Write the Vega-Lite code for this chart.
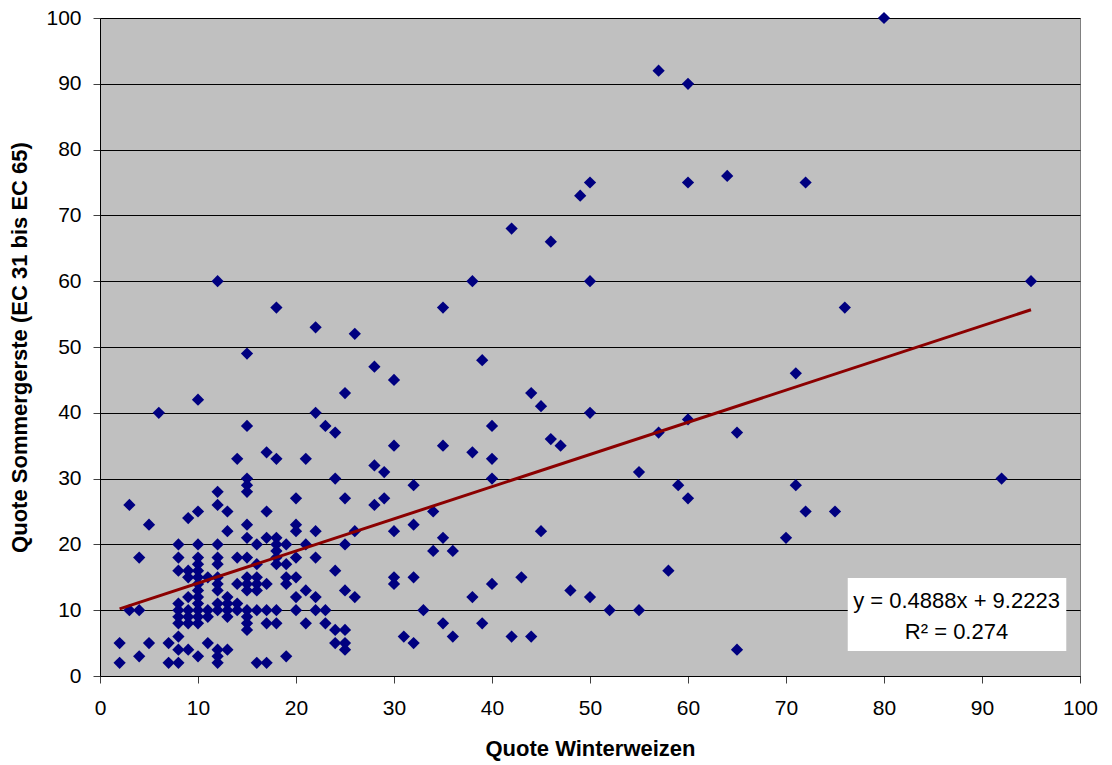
{
  "$schema": "https://vega.github.io/schema/vega-lite/v6.json",
  "width": 980,
  "height": 658,
  "autosize": {"type": "none"},
  "padding": {"left": 100, "top": 18, "right": 32, "bottom": 89},
  "background": "white",
  "config": {
    "view": {"fill": "#C0C0C0", "stroke": "#808080", "strokeWidth": 1},
    "font": "Liberation Sans",
    "axis": {
      "labelFont": "Liberation Sans",
      "labelFontSize": 21,
      "labelColor": "black",
      "titleFont": "Liberation Sans",
      "titleFontSize": 22,
      "titleFontWeight": "bold",
      "titleColor": "black",
      "domainColor": "#000000",
      "tickColor": "#404040",
      "tickSize": 7
    }
  },
  "datasets": {
    "points": [
      {"x":2,"y":5},{"x":2,"y":2},
      {"x":3,"y":26},{"x":3,"y":10},
      {"x":4,"y":18},{"x":4,"y":10},{"x":4,"y":3},
      {"x":5,"y":23},{"x":5,"y":5},
      {"x":6,"y":40},
      {"x":7,"y":5},{"x":7,"y":2},
      {"x":8,"y":20},{"x":8,"y":18},{"x":8,"y":16},{"x":8,"y":11},{"x":8,"y":10},{"x":8,"y":9},{"x":8,"y":8},{"x":8,"y":6},{"x":8,"y":4},{"x":8,"y":2},
      {"x":9,"y":24},{"x":9,"y":16},{"x":9,"y":15},{"x":9,"y":12},{"x":9,"y":10},{"x":9,"y":9},{"x":9,"y":8},{"x":9,"y":4},
      {"x":10,"y":42},{"x":10,"y":25},{"x":10,"y":20},{"x":10,"y":18},{"x":10,"y":17},{"x":10,"y":16},{"x":10,"y":15},{"x":10,"y":14},{"x":10,"y":13},{"x":10,"y":12},{"x":10,"y":11},{"x":10,"y":10},{"x":10,"y":9},{"x":10,"y":8},{"x":10,"y":3},
      {"x":11,"y":15},{"x":11,"y":10},{"x":11,"y":9},{"x":11,"y":5},
      {"x":12,"y":60},{"x":12,"y":28},{"x":12,"y":26},{"x":12,"y":20},{"x":12,"y":18},{"x":12,"y":17},{"x":12,"y":15},{"x":12,"y":14},{"x":12,"y":13},{"x":12,"y":11},{"x":12,"y":10},{"x":12,"y":4},{"x":12,"y":3},{"x":12,"y":2},
      {"x":13,"y":25},{"x":13,"y":22},{"x":13,"y":12},{"x":13,"y":11},{"x":13,"y":10},{"x":13,"y":9},{"x":13,"y":4},
      {"x":14,"y":33},{"x":14,"y":18},{"x":14,"y":14},{"x":14,"y":11},{"x":14,"y":10},
      {"x":15,"y":49},{"x":15,"y":38},{"x":15,"y":30},{"x":15,"y":29},{"x":15,"y":28},{"x":15,"y":23},{"x":15,"y":21},{"x":15,"y":18},{"x":15,"y":15},{"x":15,"y":14},{"x":15,"y":13},{"x":15,"y":10},{"x":15,"y":9},{"x":15,"y":8},{"x":15,"y":7},
      {"x":16,"y":20},{"x":16,"y":17},{"x":16,"y":15},{"x":16,"y":14},{"x":16,"y":13},{"x":16,"y":10},{"x":16,"y":2},
      {"x":17,"y":34},{"x":17,"y":25},{"x":17,"y":21},{"x":17,"y":14},{"x":17,"y":10},{"x":17,"y":8},{"x":17,"y":2},
      {"x":18,"y":56},{"x":18,"y":33},{"x":18,"y":21},{"x":18,"y":20},{"x":18,"y":19},{"x":18,"y":18},{"x":18,"y":17},{"x":18,"y":10},{"x":18,"y":8},
      {"x":19,"y":20},{"x":19,"y":17},{"x":19,"y":15},{"x":19,"y":14},{"x":19,"y":3},
      {"x":20,"y":27},{"x":20,"y":23},{"x":20,"y":22},{"x":20,"y":18},{"x":20,"y":15},{"x":20,"y":12},{"x":20,"y":10},
      {"x":21,"y":33},{"x":21,"y":20},{"x":21,"y":13},{"x":21,"y":8},
      {"x":22,"y":53},{"x":22,"y":40},{"x":22,"y":22},{"x":22,"y":18},{"x":22,"y":12},{"x":22,"y":10},
      {"x":23,"y":38},{"x":23,"y":10},{"x":23,"y":8},
      {"x":24,"y":37},{"x":24,"y":30},{"x":24,"y":16},{"x":24,"y":7},{"x":24,"y":5},
      {"x":25,"y":43},{"x":25,"y":27},{"x":25,"y":20},{"x":25,"y":13},{"x":25,"y":7},{"x":25,"y":5},{"x":25,"y":4},
      {"x":26,"y":52},{"x":26,"y":22},{"x":26,"y":12},
      {"x":28,"y":47},{"x":28,"y":32},{"x":28,"y":26},
      {"x":29,"y":31},{"x":29,"y":27},
      {"x":30,"y":45},{"x":30,"y":35},{"x":30,"y":22},{"x":30,"y":15},{"x":30,"y":14},
      {"x":31,"y":6},
      {"x":32,"y":29},{"x":32,"y":23},{"x":32,"y":15},{"x":32,"y":5},
      {"x":33,"y":10},
      {"x":34,"y":25},{"x":34,"y":19},
      {"x":35,"y":56},{"x":35,"y":35},{"x":35,"y":21},{"x":35,"y":8},
      {"x":36,"y":19},{"x":36,"y":6},
      {"x":38,"y":60},{"x":38,"y":34},{"x":38,"y":12},
      {"x":39,"y":48},{"x":39,"y":8},
      {"x":40,"y":38},{"x":40,"y":33},{"x":40,"y":30},{"x":40,"y":14},
      {"x":42,"y":68},{"x":42,"y":6},
      {"x":43,"y":15},
      {"x":44,"y":43},{"x":44,"y":6},
      {"x":45,"y":41},{"x":45,"y":22},
      {"x":46,"y":66},{"x":46,"y":36},
      {"x":47,"y":35},
      {"x":48,"y":13},
      {"x":49,"y":73},
      {"x":50,"y":75},{"x":50,"y":60},{"x":50,"y":40},{"x":50,"y":12},
      {"x":52,"y":10},
      {"x":55,"y":31},{"x":55,"y":10},
      {"x":57,"y":92},{"x":57,"y":37},
      {"x":58,"y":16},
      {"x":59,"y":29},
      {"x":60,"y":90},{"x":60,"y":75},{"x":60,"y":39},{"x":60,"y":27},
      {"x":64,"y":76},
      {"x":65,"y":37},{"x":65,"y":4},
      {"x":70,"y":21},
      {"x":71,"y":46},{"x":71,"y":29},
      {"x":72,"y":75},{"x":72,"y":25},
      {"x":75,"y":25},
      {"x":76,"y":56},
      {"x":80,"y":100},
      {"x":92,"y":30},
      {"x":95,"y":60}
    ],
    "trend": [
      {"x":2,"y":10.2},
      {"x":95,"y":55.66}
    ],
    "label": [
      {"line1": "y = 0.4888x + 9.2223", "line2": "R² = 0.274"}
    ]
  },
  "layer": [
    {
      "data": {"name": "points"},
      "mark": {"type": "point", "shape": "diamond", "filled": true, "color": "#000080", "size": 150, "opacity": 1},
      "encoding": {
        "x": {
          "field": "x", "type": "quantitative",
          "scale": {"domain": [0, 100], "nice": false, "zero": true},
          "axis": {"title": "Quote Winterweizen", "values": [0,10,20,30,40,50,60,70,80,90,100], "grid": false, "labelPadding": 14, "titlePadding": 20, "labelFlush": false}
        },
        "y": {
          "field": "y", "type": "quantitative",
          "scale": {"domain": [0, 100], "nice": false},
          "axis": {"title": "Quote Sommergerste (EC 31 bis EC 65)", "values": [0,10,20,30,40,50,60,70,80,90,100], "grid": true, "gridColor": "#000000", "gridWidth": 1, "labelPadding": 12, "titlePadding": 14, "labelFlush": false}
        }
      }
    },
    {
      "data": {"name": "trend"},
      "mark": {"type": "line", "color": "#8B0000", "strokeWidth": 3},
      "encoding": {
        "x": {"field": "x", "type": "quantitative"},
        "y": {"field": "y", "type": "quantitative"}
      }
    },
    {
      "data": {"name": "label"},
      "mark": {"type": "rect", "fill": "white"},
      "encoding": {
        "x": {"datum": 76.3, "type": "quantitative"},
        "x2": {"datum": 98.6},
        "y": {"datum": 14.9, "type": "quantitative"},
        "y2": {"datum": 3.8}
      }
    },
    {
      "data": {"name": "label"},
      "mark": {"type": "text", "fontSize": 22, "font": "Liberation Sans", "color": "black", "align": "center", "baseline": "middle"},
      "encoding": {
        "text": {"field": "line1"},
        "x": {"datum": 87.4, "type": "quantitative"},
        "y": {"datum": 11.4, "type": "quantitative"}
      }
    },
    {
      "data": {"name": "label"},
      "mark": {"type": "text", "fontSize": 22, "font": "Liberation Sans", "color": "black", "align": "center", "baseline": "middle"},
      "encoding": {
        "text": {"field": "line2"},
        "x": {"datum": 87.4, "type": "quantitative"},
        "y": {"datum": 6.7, "type": "quantitative"}
      }
    }
  ]
}
